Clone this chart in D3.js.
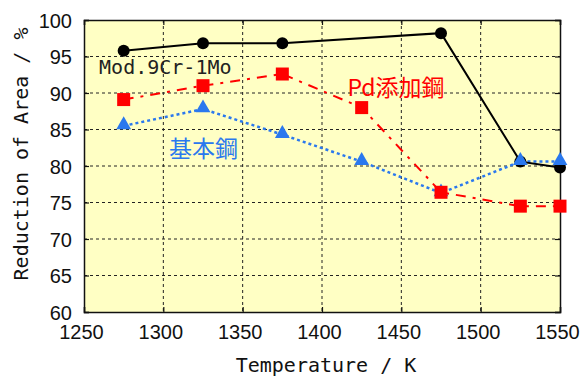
<!DOCTYPE html>
<html>
<head>
<meta charset="utf-8">
<script src="https://cdn.jsdelivr.net/npm/d3@7"></script>
<style>
  body { margin: 0; background: #fff; }
</style>
</head>
<body>
<div id="chart"></div>
<script>
// data
var xTicks = [1250, 1300, 1350, 1400, 1450, 1500, 1550];
var yTicks = [60, 65, 70, 75, 80, 85, 90, 95, 100];

var modTemps = [1275, 1325, 1375, 1475, 1525, 1550];
var modValues = [95.8, 96.8, 96.8, 98.2, 80.6, 79.8];

var pdTemps = [1275, 1325, 1375, 1425, 1475, 1525, 1550];
var pdValues = [89.1, 91.0, 92.6, 88.0, 76.4, 74.5, 74.5];

var baseTemps = [1275, 1325, 1375, 1425, 1475, 1525, 1550];
var baseValues = [85.5, 87.8, 84.3, 80.6, 76.3, 80.6, 80.6];

var svgWidth = 582;
var svgHeight = 378;

var margin = { top: 20, right: 22, bottom: 66, left: 84 };
var width = svgWidth - margin.left - margin.right;
var height = svgHeight - margin.top - margin.bottom;

var svg = d3.select("#chart")
    .append("svg")
    .attr("width", svgWidth)
    .attr("height", svgHeight);

var chartGroup = svg.append("g")
    .attr("transform", `translate(${margin.left}, ${margin.top})`);

var xScale = d3.scaleLinear().domain([1250, 1550]).range([0, width]);
var yScale = d3.scaleLinear().domain([60, 100]).range([height, 0]);

// plot background
chartGroup.append("rect")
    .attr("width", width)
    .attr("height", height)
    .attr("fill", "#ffffc4");

// dashed grid
chartGroup.append("g")
    .selectAll("line")
    .data(xTicks.slice(1, -1))
    .enter()
    .append("line")
    .attr("x1", d => xScale(d)).attr("x2", d => xScale(d))
    .attr("y1", 0).attr("y2", height)
    .attr("stroke", "#222")
    .attr("stroke-width", 1)
    .attr("stroke-dasharray", "3,3");

chartGroup.append("g")
    .selectAll("line")
    .data(yTicks.slice(1, -1))
    .enter()
    .append("line")
    .attr("x1", 0).attr("x2", width)
    .attr("y1", d => yScale(d)).attr("y2", d => yScale(d))
    .attr("stroke", "#222")
    .attr("stroke-width", 1)
    .attr("stroke-dasharray", "3,3");

// axes
var bottomAxis = d3.axisBottom(xScale).tickValues(xTicks).tickSize(-5).tickPadding(13).tickFormat(d3.format("d"));
var leftAxis = d3.axisLeft(yScale).tickValues(yTicks).tickSize(-5).tickPadding(12).tickFormat(d3.format("d"));
var rightAxis = d3.axisRight(yScale).tickValues(yTicks).tickSize(-5).tickFormat("");
var topAxis = d3.axisTop(xScale).tickValues(xTicks).tickSize(-5).tickFormat("");

function styleAxis(g) {
    g.select(".domain").attr("stroke", "#111").attr("stroke-width", 1.5);
    g.selectAll(".tick line").attr("stroke", "#111").attr("stroke-width", 1.2);
    g.selectAll("text")
        .attr("fill", "#111")
        .style("font-family", "'Liberation Sans', Arial, sans-serif")
        .style("font-size", "20px");
}

chartGroup.append("g")
    .attr("transform", `translate(0, ${height})`)
    .call(bottomAxis)
    .call(styleAxis)
    .selectAll("text")
    .attr("dx", "-3");

chartGroup.append("g")
    .call(leftAxis)
    .call(styleAxis)
    .selectAll("text")
    .attr("dy", "0.36em");

chartGroup.append("g")
    .attr("transform", `translate(${width}, 0)`)
    .call(rightAxis)
    .call(styleAxis);

chartGroup.append("g")
    .call(topAxis)
    .call(styleAxis);

// series
function drawSeries(temps, values, color, dash, strokeWidth) {
    var pts = temps.map((t, i) => [t, values[i]]);
    var line = d3.line()
        .x(d => xScale(d[0]))
        .y(d => yScale(d[1]));
    chartGroup.append("path")
        .datum(pts)
        .attr("d", line)
        .attr("fill", "none")
        .attr("stroke", color)
        .attr("stroke-width", strokeWidth)
        .attr("stroke-dasharray", dash);
    return pts;
}

var basePts = drawSeries(baseTemps, baseValues, "#2a78ee", "3,3", 2.5);
var pdPts = drawSeries(pdTemps, pdValues, "#ff0000", "10,7,3,7", 2);
var modPts = drawSeries(modTemps, modValues, "#000", null, 2);

// markers
chartGroup.append("g")
    .selectAll("circle")
    .data(modPts)
    .enter()
    .append("circle")
    .attr("cx", d => xScale(d[0]))
    .attr("cy", d => yScale(d[1]))
    .attr("r", 6)
    .attr("fill", "#000");

chartGroup.append("g")
    .selectAll("path")
    .data(basePts)
    .enter()
    .append("path")
    .attr("d", d3.symbol().type(d3.symbolTriangle).size(95))
    .attr("transform", d => `translate(${xScale(d[0])}, ${yScale(d[1]) - 1})`)
    .attr("fill", "#2a78ee");

chartGroup.append("g")
    .selectAll("rect")
    .data(pdPts)
    .enter()
    .append("rect")
    .attr("x", d => xScale(d[0]) - 6.5)
    .attr("y", d => yScale(d[1]) - 6.5)
    .attr("width", 13)
    .attr("height", 13)
    .attr("fill", "#ff0000");

// series labels
var labelFont = "'DejaVu Sans Mono', 'Liberation Mono', monospace";
chartGroup.append("text")
    .attr("x", xScale(1259.5))
    .attr("y", yScale(92.6))
    .attr("fill", "#222")
    .style("font-family", labelFont)
    .style("font-size", "20px")
    .text("Mod.9Cr-1Mo");

chartGroup.append("text")
    .attr("x", xScale(1416))
    .attr("y", yScale(89.6))
    .attr("fill", "#ff0000")
    .style("font-family", "'Noto Sans CJK JP', sans-serif")
    .style("font-size", "23px")
    .text("Pd添加鋼");

chartGroup.append("text")
    .attr("x", xScale(1303.5))
    .attr("y", yScale(81.3))
    .attr("fill", "#2a78ee")
    .style("font-family", "'Noto Sans CJK JP', sans-serif")
    .style("font-size", "23px")
    .text("基本鋼");

// axis titles
svg.append("text")
    .attr("x", margin.left + width / 2 + 4)
    .attr("y", 372)
    .attr("text-anchor", "middle")
    .attr("fill", "#111")
    .style("font-family", labelFont)
    .style("font-size", "20px")
    .text("Temperature / K");

svg.append("text")
    .attr("transform", `translate(28, ${margin.top + height / 2 - 12}) rotate(-90)`)
    .attr("text-anchor", "middle")
    .attr("fill", "#111")
    .style("font-family", labelFont)
    .style("font-size", "20px")
    .text("Reduction of Area / %");
</script>
</body>
</html>
